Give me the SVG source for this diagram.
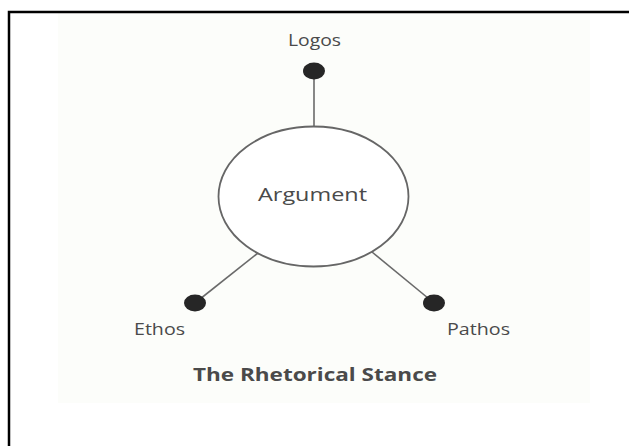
<svg xmlns="http://www.w3.org/2000/svg" width="629" height="446" viewBox="0 0 629 446">
  <style>
    .lbl { font-family: "Open Sans", "Liberation Sans", sans-serif; fill: #4a4a4a; }
    .conn { stroke: #6a6a6a; stroke-width: 1.6; fill: none; }
    .dot { fill: #262626; }
  </style>
  <rect x="0" y="0" width="629" height="446" fill="#ffffff"/>
  <rect x="58" y="13" width="532" height="390" fill="#fcfdfa"/>
  <g id="frame" stroke="#000" stroke-width="2.5" fill="none">
    <path d="M9 446 V12 H629"/>
  </g>
  <g id="connectors">
    <line class="conn" x1="314" y1="71" x2="314" y2="127"/>
    <line class="conn" x1="195" y1="303" x2="258" y2="253"/>
    <line class="conn" x1="434" y1="303" x2="372" y2="252"/>
  </g>
  <g id="argument">
    <ellipse cx="313.5" cy="196.5" rx="95" ry="70" fill="#fff" stroke="#666" stroke-width="1.8"/>
    <text class="lbl" x="312.5" y="200.5" font-size="19" text-anchor="middle" textLength="109" lengthAdjust="spacingAndGlyphs">Argument</text>
  </g>
  <g id="logos">
    <ellipse class="dot" cx="314" cy="71" rx="11" ry="8.5"/>
    <text class="lbl" x="314.5" y="45.5" font-size="16" text-anchor="middle" textLength="53" lengthAdjust="spacingAndGlyphs">Logos</text>
  </g>
  <g id="ethos">
    <ellipse class="dot" cx="195" cy="303" rx="11" ry="8.5"/>
    <text class="lbl" x="159.5" y="334.5" font-size="16" text-anchor="middle" textLength="51" lengthAdjust="spacingAndGlyphs">Ethos</text>
  </g>
  <g id="pathos">
    <ellipse class="dot" cx="434" cy="303" rx="11" ry="8.5"/>
    <text class="lbl" x="478.5" y="334.5" font-size="16" text-anchor="middle" textLength="63" lengthAdjust="spacingAndGlyphs">Pathos</text>
  </g>
  <g id="title">
    <text class="lbl" x="315" y="380.5" font-size="18" font-weight="bold" text-anchor="middle" textLength="244" lengthAdjust="spacingAndGlyphs" fill="#3a3a3a">The Rhetorical Stance</text>
  </g>
</svg>
